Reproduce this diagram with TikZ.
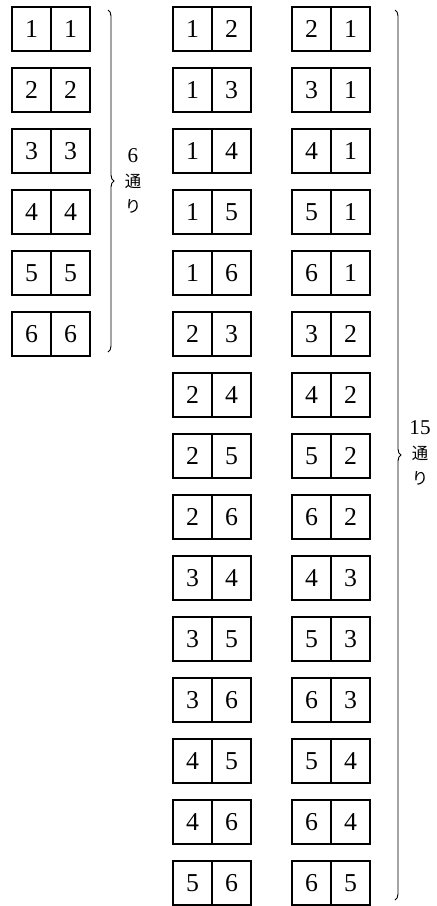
\documentclass[tikz,border=0pt]{standalone}
\usepackage{fontspec}
\setmainfont{Liberation Serif}
\newfontfamily\cjk{Noto Sans CJK JP}
\usetikzlibrary{positioning,decorations.pathreplacing}

\begin{document}
\begin{tikzpicture}[
    cell/.style={draw, line width=1.1pt, minimum width=1.17cm, minimum height=1.32cm,
        inner sep=0pt, outer sep=0pt, font=\fontsize{22}{24}\selectfont},
    count/.style={align=center, inner sep=0pt, font=\fontsize{14}{21}\selectfont},
    bracedec/.style={decorate, decoration={brace, amplitude=0.18cm}, line width=0.8pt}
]
    \useasboundingbox (0,0) rectangle (13.11,-27.18);
    % same number on both dice
    \foreach \a [count=\i from 0] in {1,...,6} {
            \node[cell] (sa\a) at (0.945,-0.87-1.83*\i) {\a};
            \node[cell, right=0pt of sa\a] (sb\a) {\a};
        }
    % different numbers, both orders
    \foreach \a/\b [count=\i from 1] in {1/2,1/3,1/4,1/5,1/6,2/3,2/4,2/5,2/6,3/4,3/5,3/6,4/5,4/6,5/6} {
            \node[cell] (pa\i) at (5.775,-0.87-1.83*\i+1.83) {\a};
            \node[cell, right=0pt of pa\i] (pb\i) {\b};
            \node[cell] (qa\i) at (9.345,-0.87-1.83*\i+1.83) {\b};
            \node[cell, right=0pt of qa\i] (qb\i) {\a};
        }
    \coordinate (bs1) at (3.24,-0.3);
    \coordinate (bs2) at (3.24,-10.56);
    \draw[bracedec] (bs1) -- (bs2);
    \node[count] (ns) at (3.99,-5.43) {{\fontsize{18}{21}\selectfont 6}\\{\cjk 通}\\{\cjk り}};
    \coordinate (bp1) at (11.85,-0.3);
    \coordinate (bp2) at (11.85,-27.0);
    \draw[bracedec] (bp1) -- (bp2);
    \node[count] (np) at (12.6,-13.59) {{\fontsize{18}{21}\selectfont 15}\\{\cjk 通}\\{\cjk り}};
\end{tikzpicture}
\end{document}
